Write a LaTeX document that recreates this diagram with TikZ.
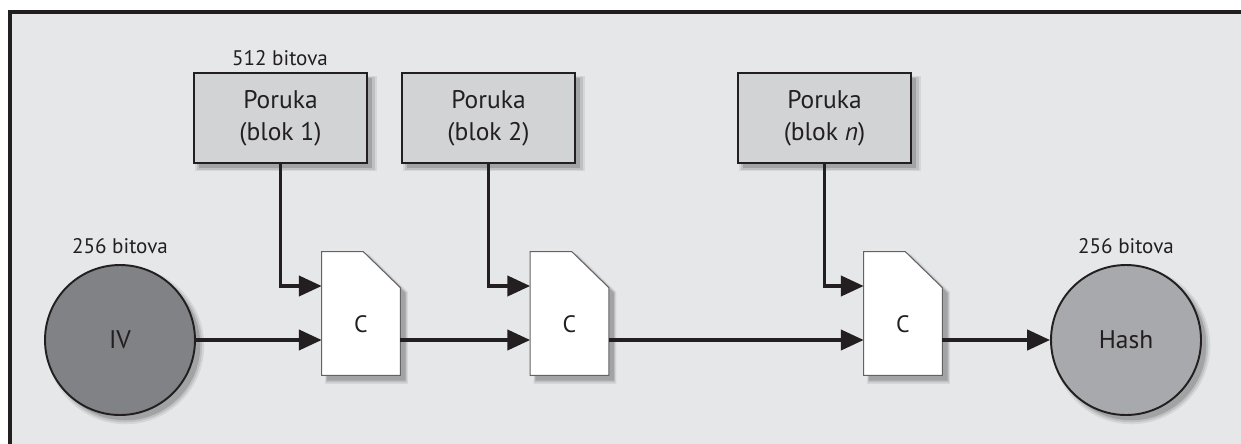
\documentclass[tikz,border=0pt]{standalone}
\usepackage{fontspec}
\setmainfont{PT Sans}
\usetikzlibrary{shadows,arrows.meta}
\pgfdeclarelayer{background}
\pgfsetlayers{background,main}
\definecolor{panel}{HTML}{E6E7E8}
\definecolor{boxgray}{HTML}{D1D3D4}
\definecolor{ivgray}{HTML}{808285}
\definecolor{hashgray}{HTML}{A7A9AC}
\definecolor{ink}{HTML}{231F20}
\tikzset{
  dropsh/.style={
    drop shadow={shadow xshift=3pt,shadow yshift=-3pt,shadow scale=1.05,opacity=.07,fill=black},
    drop shadow={shadow xshift=3pt,shadow yshift=-3pt,shadow scale=1.025,opacity=.1,fill=black},
    drop shadow={shadow xshift=3pt,shadow yshift=-3pt,opacity=.15,fill=black}},
  msgbox/.style={draw=ink,line width=0.9pt,fill=boxgray,text=ink,minimum width=3.46cm,
    minimum height=1.8cm,align=center,font=\fontsize{14.5}{18}\selectfont,dropsh},
  cbox/.style={minimum width=1.56cm,minimum height=2.46cm,inner sep=0pt},
  cfont/.style={text=ink,font=\fontsize{13.5}{16}\selectfont},
  valnode/.style={circle,draw=ink,line width=1.1pt,minimum size=3.0cm,inner sep=0pt,
    text=ink,font=\fontsize{14.5}{18}\selectfont,dropsh},
  bits/.style={text=ink,font=\fontsize{12}{14}\selectfont},
  flow/.style={line width=2pt,draw=ink,-{Triangle[length=13pt,width=11.5pt]}}
}
\begin{document}
\begin{tikzpicture}
  \useasboundingbox (0,0) rectangle (24.82,-8.86);
  % message blocks
  \node [msgbox] (m1) at (5.61,-2.36) {Poruka\\(blok 1)};
  \node [msgbox] (m2) at (9.77,-2.36) {Poruka\\(blok 2)};
  \node [msgbox] (mn) at (16.49,-2.36) {Poruka\\(blok \textit{n})};
  \node [bits] (b1) at (5.6,-1.16) {512 bitova};
  % compression boxes
  \node [cbox,label={[cfont,yshift=-2.2mm]center:C}] (c1) at (7.22,-6.27) {};
  \node [cbox,label={[cfont,yshift=-2.2mm]center:C}] (c2) at (11.39,-6.27) {};
  \node [cbox,label={[cfont,yshift=-2.2mm]center:C}] (cn) at (18.06,-6.27) {};
  % IV and hash
  \node [valnode,fill=ivgray] (iv) at (2.4,-6.8) {IV};
  \node [valnode,fill=hashgray] (hash) at (22.52,-6.8) {Hash};
  \node [bits] (b2) at (2.4,-4.92) {256 bitova};
  \node [bits] (b3) at (22.52,-4.92) {256 bitova};
  \begin{pgfonlayer}{background}
    \fill [panel] (0.2,-0.24) rectangle (25.6,-9.6);
    \draw [ink,line width=2.3pt] (0.2,-9.6) -- (0.2,-0.24) -- (25.6,-0.24);
    \foreach \c in {c1,c2,cn}
      \filldraw [fill=white,draw=ink!70,line width=0.6pt,dropsh]
        (\c.south west) -- (\c.north west) -- ([xshift=-7.4mm]\c.north east)
        -- ([yshift=-7.2mm]\c.north east) -- (\c.south east) -- cycle;
  \end{pgfonlayer}
  % chaining
  \draw [flow] (iv) -- (iv -| c1.west);
  \draw [flow] (c1.east |- iv) -- (iv -| c2.west);
  \draw [flow] (c2.east |- iv) -- (iv -| cn.west);
  \draw [flow] (cn.east |- iv) -- (hash);
  \foreach \m/\c in {m1/c1,m2/c2,mn/cn}
    \draw [flow] (\m.south) |- ([yshift=5.5mm]\c.west);
\end{tikzpicture}
\end{document}
